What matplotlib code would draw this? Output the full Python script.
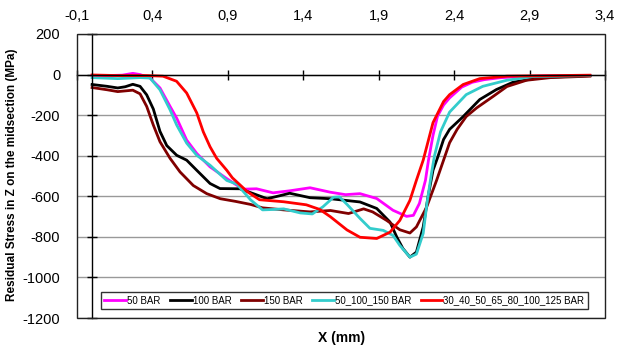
import matplotlib
matplotlib.use("Agg")
import matplotlib.pyplot as plt
from matplotlib.patches import Rectangle
from matplotlib.ticker import FuncFormatter

plt.rcParams['font.family'] = ['Liberation Sans', 'DejaVu Sans']
plt.rcParams['axes.unicode_minus'] = False

# === DATA ===
x_50 = [0.0, 0.1, 0.2, 0.27, 0.318, 0.384, 0.45, 0.517, 0.561, 0.627, 0.694, 0.782, 0.893,
        1.0, 1.09, 1.2, 1.31, 1.445, 1.58, 1.68, 1.776, 1.887, 1.995, 2.085, 2.13, 2.17,
        2.21, 2.23, 2.26, 2.29, 2.33, 2.37, 2.45, 2.52, 2.6, 2.7, 2.8, 3.0, 3.3]
y_50 = [-5, -5, -3, 6, 0, -17, -66, -157, -215, -323, -389, -455, -513,
        -565, -563, -583, -573, -558, -580, -592, -587, -611, -669, -699, -694, -635,
        -521, -422, -300, -205, -150, -115, -62, -38, -25, -16, -11, -7, -5]

x_100 = [0.0, 0.1, 0.17, 0.22, 0.27, 0.318, 0.362, 0.406, 0.45, 0.495, 0.561, 0.627, 0.694,
         0.782, 0.848, 0.98, 1.08, 1.16, 1.24, 1.31, 1.445, 1.58, 1.776, 1.887, 1.975, 2.02,
         2.06, 2.107, 2.15, 2.195, 2.227, 2.26, 2.29, 2.33, 2.37, 2.46, 2.57, 2.68, 2.79,
         2.97, 3.3]
y_100 = [-49, -58, -66, -60, -48, -58, -100, -170, -280, -350, -398, -422, -472,
         -537, -562, -563, -590, -612, -598, -585, -607, -612, -628, -660, -727, -801,
         -857, -900, -875, -751, -603, -472, -410, -320, -270, -207, -123, -74, -38,
         -15, -5]

x_150 = [0.0, 0.1, 0.17, 0.27, 0.318, 0.362, 0.406, 0.45, 0.517, 0.583, 0.671, 0.76, 0.85,
         0.95, 1.05, 1.13, 1.27, 1.445, 1.58, 1.7, 1.8, 1.86, 1.953, 2.04, 2.107, 2.15,
         2.218, 2.284, 2.33, 2.37, 2.42, 2.48, 2.55, 2.66, 2.75, 2.88, 3.04, 3.3]
y_150 = [-64, -75, -84, -77, -95, -157, -249, -331, -413, -480, -547, -587, -612,
         -625, -640, -657, -667, -677, -670, -685, -662, -677, -719, -765, -781, -751,
         -653, -521, -422, -336, -270, -207, -164, -107, -59, -28, -15, -8]

x_mix = [0.0, 0.17, 0.318, 0.384, 0.45, 0.517, 0.561, 0.627, 0.694, 0.782, 0.893, 0.96,
         1.05, 1.13, 1.2, 1.27, 1.38, 1.46, 1.53, 1.6, 1.64, 1.69, 1.776, 1.842, 1.93,
         1.995, 2.04, 2.107, 2.15, 2.195, 2.22, 2.25, 2.27, 2.31, 2.37, 2.48, 2.59, 2.75,
         2.92, 3.3]
y_mix = [-15, -20, -15, -17, -75, -174, -249, -338, -398, -447, -522, -540,
         -617, -667, -665, -662, -682, -687, -652, -605, -603, -640, -709, -758, -768,
         -793, -842, -900, -885, -783, -635, -486, -400, -282, -185, -99, -58, -28,
         -10, -5]

x_seq = [0.0, 0.17, 0.252, 0.362, 0.47, 0.56, 0.627, 0.694, 0.737, 0.782, 0.826, 0.893,
         0.93, 1.03, 1.11, 1.27, 1.42, 1.51, 1.58, 1.69, 1.776, 1.887, 1.975, 2.04, 2.107,
         2.15, 2.195, 2.26, 2.33, 2.37, 2.46, 2.57, 2.75, 3.3]
y_seq = [-2, -5, -5, -5, -8, -33, -91, -189, -282, -356, -413, -472,
         -509, -578, -617, -627, -642, -665, -701, -766, -802, -808, -777, -719, -620,
         -521, -422, -237, -133, -99, -49, -20, -8, -3]

labels = ["50 BAR", "100 BAR", "150 BAR", "50_100_150 BAR", "30_40_50_65_80_100_125 BAR"]
colors = ["#FF00FF", "#000000", "#800000", "#33CCCC", "#FF0000"]
series = [(x_50, y_50), (x_100, y_100), (x_150, y_150), (x_mix, y_mix), (x_seq, y_seq)]

x_ticks = [-0.1, 0.4, 0.9, 1.4, 1.9, 2.4, 2.9, 3.4]
y_ticks = [-1200, -1000, -800, -600, -400, -200, 0, 200]

# === DRAW ===
fig = plt.figure(figsize=(6.17, 3.5), dpi=100)
ax = fig.add_axes([0.1248, 0.0914, 0.8557, 0.8115])

for (xs, ys), lab, col in zip(series, labels, colors):
    ax.plot(xs, ys, color=col, lw=2, label=lab, solid_joinstyle='round')

ax.set_xlim(-0.1, 3.4)
ax.set_ylim(-1200, 200)
ax.set_xticks(x_ticks)
ax.set_yticks(y_ticks)
ax.yaxis.grid(True, color="#999999", lw=1)
ax.set_axisbelow(True)

# axes crossing at origin
ax.spines['bottom'].set_position(('data', 0))
ax.spines['left'].set_position(('data', 0))
ax.spines['top'].set_visible(False)
ax.spines['right'].set_visible(False)
for s in ('bottom', 'left'):
    ax.spines[s].set_color('black')
    ax.spines[s].set_linewidth(1)
ax.tick_params(direction='inout', length=7, width=1, labelbottom=False, labelleft=False)

# outer frame
ax.add_patch(Rectangle((0, 0), 1, 1, transform=ax.transAxes, fill=False,
                       edgecolor='#222222', lw=1, clip_on=False, zorder=5))

comma = FuncFormatter(lambda v, p: f"{v:.1f}".replace(".", ","))
top = ax.secondary_xaxis('top')
top.set_xticks(x_ticks)
top.xaxis.set_major_formatter(comma)
top.tick_params(length=0, pad=8, labelsize=10.5)
top.spines['top'].set_visible(False)

left = ax.secondary_yaxis('left')
left.set_yticks(y_ticks)
left.tick_params(length=0, pad=12, labelsize=10.5)
left.spines['left'].set_visible(False)

fig.text(0.02, 0.5, "Residual Stress in Z on the midsection (MPa)", rotation=90,
         ha='center', va='center', fontsize=8.5, fontweight='bold')
fig.text(0.553, 0.035, "X (mm)", ha='center', va='center', fontsize=10, fontweight='bold')

leg = ax.legend(loc='lower left', bbox_to_anchor=(0.0455, 0.032, 0.922, 0.06),
                mode='expand', ncol=5, fontsize=7, frameon=True, fancybox=False,
                handlelength=2.2, handletextpad=0.1, borderpad=0.35, borderaxespad=0)
leg.get_frame().set_edgecolor('black')
leg.get_frame().set_linewidth(1)

fig.savefig("out.png", dpi=100)
